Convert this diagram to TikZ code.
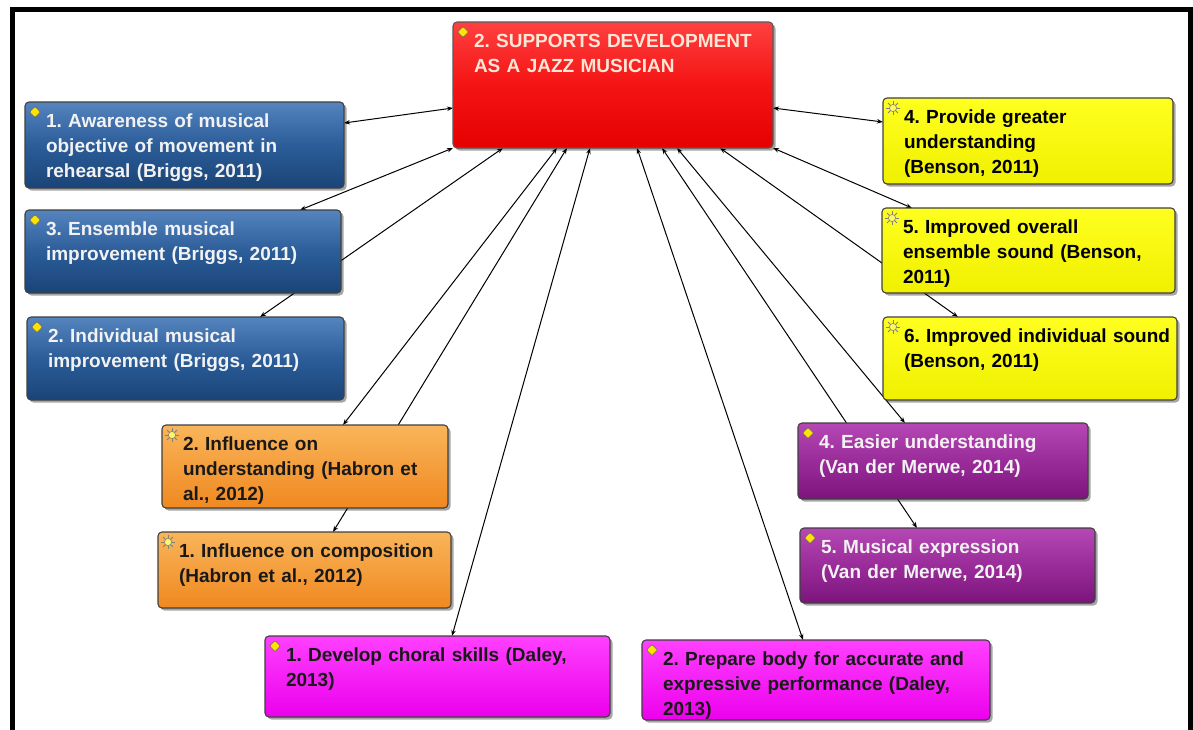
\documentclass[tikz,border=0pt]{standalone}
\usepackage{fontspec}
\setmainfont{Liberation Sans}
\usetikzlibrary{arrows.meta,shadows,backgrounds}
\frenchspacing

\definecolor{blueTop}{HTML}{5584BE}
\definecolor{blueMid}{HTML}{2B5D99}
\definecolor{blueBot}{HTML}{1A4477}
\definecolor{redTop}{HTML}{FF4040}
\definecolor{redMid}{HTML}{F41414}
\definecolor{redBot}{HTML}{E60000}
\definecolor{yelTop}{HTML}{FFFF20}
\definecolor{yelBot}{HTML}{F0F000}
\definecolor{oraTop}{HTML}{F9B55A}
\definecolor{oraBot}{HTML}{F08820}
\definecolor{magTop}{HTML}{FF40FF}
\definecolor{magBot}{HTML}{EC00EC}
\definecolor{purTop}{HTML}{B548B5}
\definecolor{purMid}{HTML}{9A2C9A}
\definecolor{purBot}{HTML}{7C147C}
\definecolor{lightText}{HTML}{F2F2F2}
\definecolor{redText}{HTML}{FFE6D6}

\pgfdeclarelayer{back}
\pgfsetlayers{back,main}

\tikzset{
  x=1pt, y=-1pt,
  card/.style={rectangle, rounded corners=4pt, outer sep=0pt, inner sep=0pt,
    line width=1.1pt,
    drop shadow={shadow xshift=2.5pt, shadow yshift=-2.5pt, opacity=0.35, fill=black}},
  bluecard/.style={card, draw=black!75, top color=blueTop, bottom color=blueBot, middle color=blueMid},
  redcard/.style={card, draw=black!65, top color=redTop, bottom color=redBot, middle color=redMid},
  yelcard/.style={card, draw=black!75, top color=yelTop, bottom color=yelBot},
  oracard/.style={card, draw=black!75, top color=oraTop, bottom color=oraBot},
  magcard/.style={card, draw=black!75, top color=magTop, bottom color=magBot},
  purcard/.style={card, draw=black!75, top color=purTop, bottom color=purBot, middle color=purMid},
  cardtext/.style={inner sep=0pt, outer sep=0pt, align=left, text width=330pt,
    font=\bfseries\fontsize{19}{25}\selectfont},
  bluecard text/.style={cardtext, text=lightText},
  redcard text/.style={cardtext, text=redText},
  yelcard text/.style={cardtext, text=black},
  oracard text/.style={cardtext, text=black!90},
  magcard text/.style={cardtext, text=black!90},
  purcard text/.style={cardtext, text=lightText},
  link/.style={draw=black, line width=1pt, {Stealth[length=6pt,width=4.5pt]}-{Stealth[length=6pt,width=4.5pt]}},
  gemicon/.pic={
    \filldraw[fill=yellow!85!orange, draw=black!60, line width=0.6pt, rounded corners=1pt]
      (0,-5.5) -- (5.5,0) -- (0,5.5) -- (-5.5,0) -- cycle;
  },
  sunicon/.pic={
    \foreach \a in {0,45,...,315}
      \draw[black!50, line width=0.9pt] (\a:3) -- (\a:7);
    \filldraw[fill=yellow!60!white, draw=black!50, line width=0.6pt] (0,0) circle (3.6);
  }
}

% a concept card: name, style, left, top, right, bottom, icon, text
\newcommand\conceptcard[8]{%
  \node[#2, minimum width={#5-#3}, minimum height={#6-#4}, anchor=north west] (#1) at (#3,#4) {};
  \node[#2 text, anchor=base west] (#1-t) at ([shift={(21,25)}]#1.north west) {#8};
  \pic at ([shift={(10,10)}]#1.north west) {#7};
}

\begin{document}
\begin{tikzpicture}
\useasboundingbox (0,0) rectangle (1193,729);
\begin{pgfonlayer}{back}
  \fill[white] (0,0) rectangle (1193,729);
\end{pgfonlayer}

% central concept
\conceptcard{core}{redcard}{453}{22}{773}{148}{gemicon}{2. SUPPORTS DEVELOPMENT\\AS A JAZZ MUSICIAN}

% left column
\conceptcard{bA}{bluecard}{25}{102}{344}{188}{gemicon}{1. Awareness of musical\\objective of movement in\\rehearsal (Briggs, 2011)}
\conceptcard{bE}{bluecard}{25}{210}{341}{293}{gemicon}{3. Ensemble musical\\improvement (Briggs, 2011)}
\conceptcard{bI}{bluecard}{27}{317}{344}{400}{gemicon}{2. Individual musical\\improvement (Briggs, 2011)}
\conceptcard{oU}{oracard}{162}{425}{448}{508}{sunicon}{2. Influence on\\understanding (Habron et\\al., 2012)}
\conceptcard{oC}{oracard}{158}{532}{451}{608}{sunicon}{1. Influence on composition\\(Habron et al., 2012)}

% bottom row
\conceptcard{mC}{magcard}{265}{636}{610}{717}{gemicon}{1. Develop choral skills (Daley,\\2013)}
\conceptcard{mP}{magcard}{642}{640}{990}{720}{gemicon}{2. Prepare body for accurate and\\expressive performance (Daley,\\2013)}

% right column
\conceptcard{yP}{yelcard}{883}{98}{1173}{184}{sunicon}{4. Provide greater\\understanding\\(Benson, 2011)}
\conceptcard{yO}{yelcard}{882}{208}{1175}{293}{sunicon}{5. Improved overall\\ensemble sound (Benson,\\2011)}
\conceptcard{yI}{yelcard}{883}{317}{1177}{400}{sunicon}{6. Improved individual sound\\(Benson, 2011)}
\conceptcard{pE}{purcard}{798}{423}{1088}{499}{gemicon}{4. Easier understanding\\(Van der Merwe, 2014)}
\conceptcard{pM}{purcard}{800}{528}{1095}{603}{gemicon}{5. Musical expression\\(Van der Merwe, 2014)}

% connectors, kept behind the cards
\begin{pgfonlayer}{back}
  \draw[link] ([shift={(0,86)}]core.north west) -- ([shift={(0,21)}]bA.north east);
  \draw[link] (core.south west) -- ([shift={(275,0)}]bE.north west);
  \draw[link] ([shift={(50,0)}]core.south west) -- ([shift={(233,0)}]bI.north west);
  \draw[link] ([shift={(104,0)}]core.south west) -- ([shift={(181,0)}]oU.north west);
  \draw[link] ([shift={(114,0)}]core.south west) -- ([shift={(175,0)}]oC.north west);
  \draw[link] ([shift={(137,0)}]core.south west) -- ([shift={(187,0)}]mC.north west);
  \draw[link] ([shift={(184,0)}]core.south west) -- ([shift={(161,0)}]mP.north west);
  \draw[link] ([shift={(209,0)}]core.south west) -- ([shift={(117,0)}]pM.north west);
  \draw[link] ([shift={(224,0)}]core.south west) -- ([shift={(107,0)}]pE.north west);
  \draw[link] ([shift={(267,0)}]core.south west) -- ([shift={(75,0)}]yI.north west);
  \draw[link] (core.south east) -- ([shift={(30,0)}]yO.north west);
  \draw[link] ([shift={(0,86)}]core.north east) -- ([shift={(0,24)}]yP.north west);
\end{pgfonlayer}

% page frame
\draw[line width=5pt] (12.5,735) -- (12.5,9.5) -- (1190.5,9.5) -- (1190.5,735);
\end{tikzpicture}
\end{document}
